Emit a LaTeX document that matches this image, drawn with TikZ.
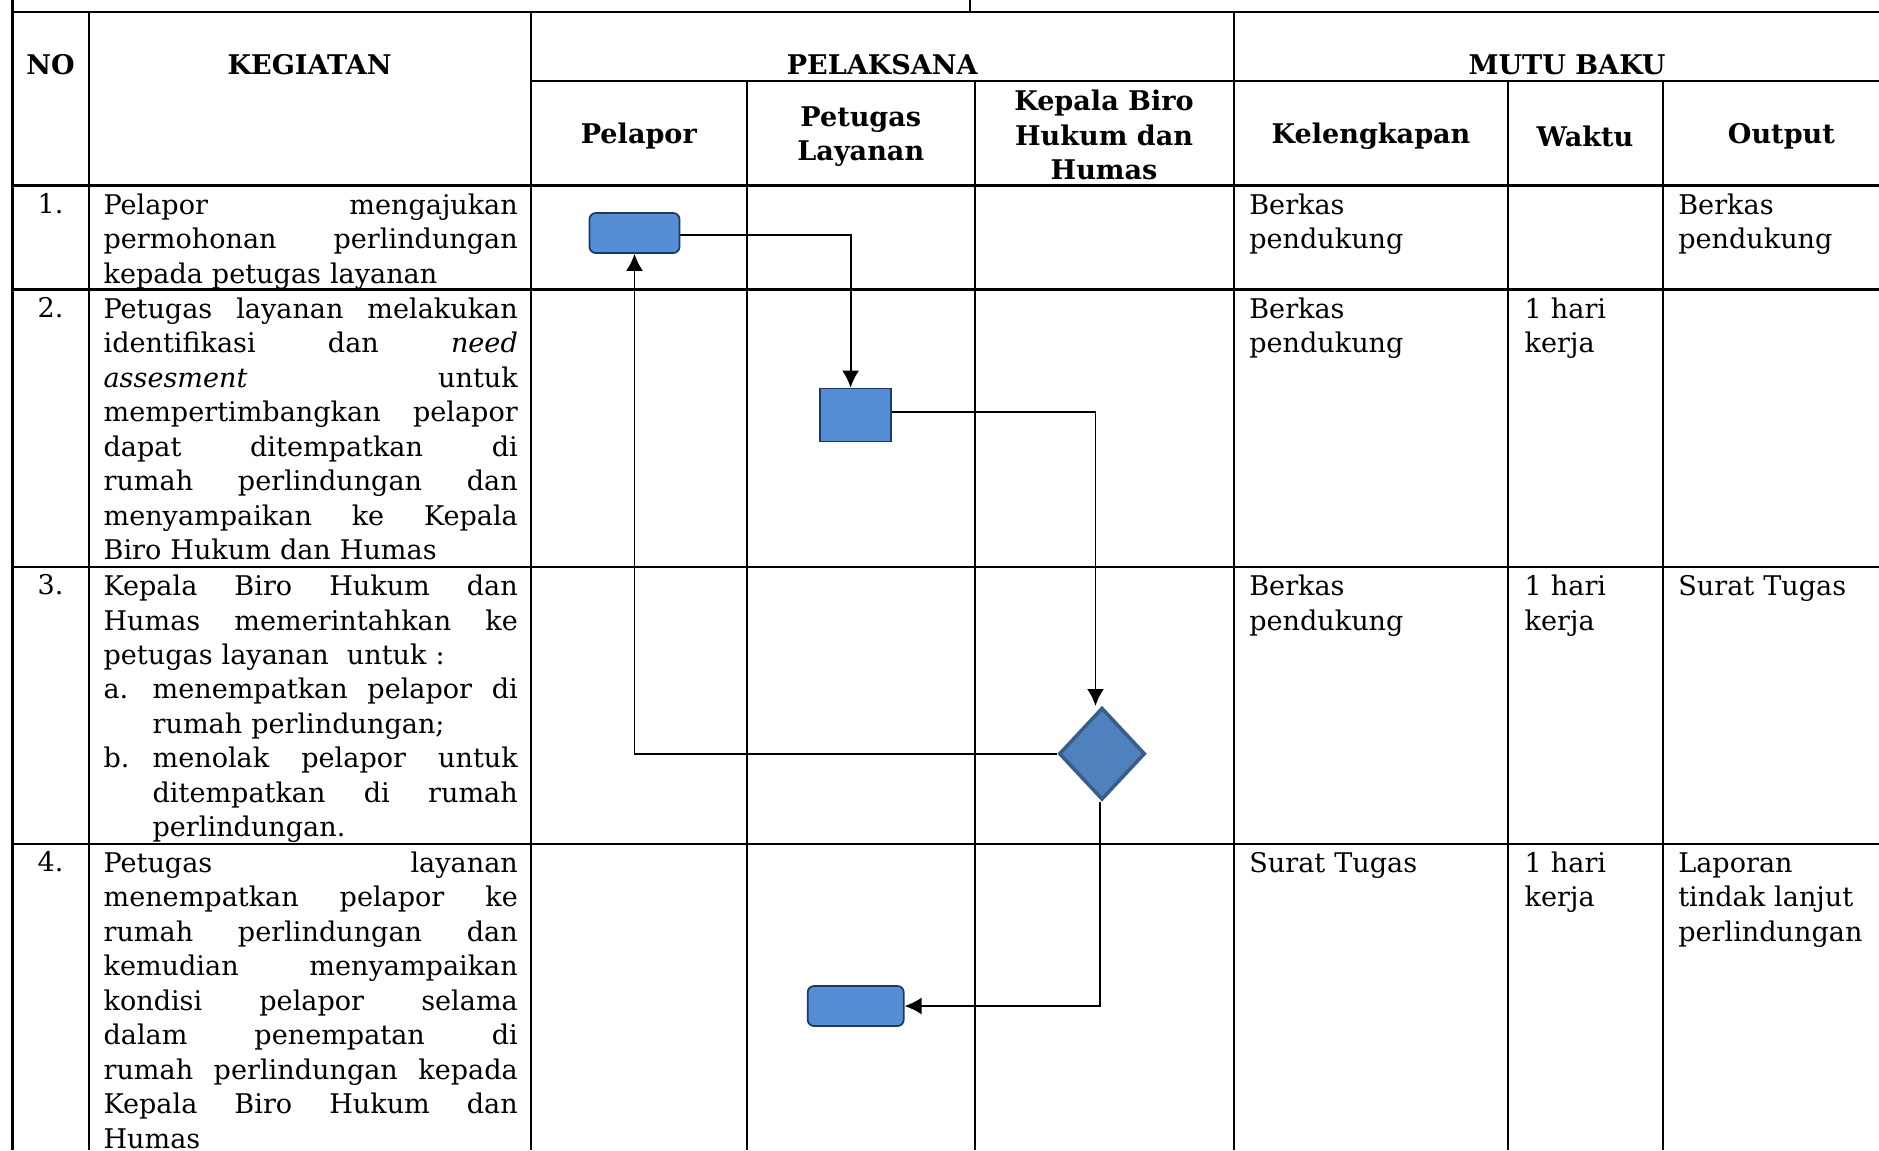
\documentclass[tikz,border=0pt]{standalone}
\usepackage{fontspec}
\setmainfont{DejaVu Serif}
\usetikzlibrary{arrows.meta,shapes.geometric}
\definecolor{boxblue}{RGB}{85,142,213}
\definecolor{boxedge}{RGB}{31,56,100}
\definecolor{diafill}{RGB}{79,129,189}
\definecolor{diaedge}{RGB}{56,93,138}
\newcommand\jl[2][4.14cm]{\makebox[#1][s]{\spaceskip=0.32em plus 1fil\relax #2}}
\newcommand\itm[1]{\makebox[0.49cm][l]{#1}}
\newcommand\txtsize{\fontsize{7.7}{9.8}\selectfont}
\tikzset{
  grid/.style={line width=0.6pt},
  cell/.style={anchor=north west, inner sep=0pt, text width=#1, align=left, font=\txtsize, execute at begin node=\strut},
  cell/.default=4.2cm,
  head/.style={inner sep=0pt, align=center, font=\txtsize\bfseries},
  num/.style={anchor=base, inner sep=0pt, font=\txtsize},
  termbox/.style={draw=boxedge, fill=boxblue, line width=0.5pt, rounded corners=1.8pt, inner sep=0pt, minimum width=#1, minimum height=0.4cm},
  procbox/.style={draw=boxedge, fill=boxblue, line width=0.5pt, inner sep=0pt, minimum width=0.71cm, minimum height=0.53cm},
  decide/.style={diamond, draw=diaedge, fill=diafill, line width=1pt, inner sep=0pt, minimum width=0.86cm, minimum height=0.92cm},
  flow/.style={line width=0.55pt}
}
\begin{document}
\begin{tikzpicture}[x=0.01cm, y=-0.01cm, >={Latex[length=4.8pt,width=4.8pt]}]
\useasboundingbox (0,0) rectangle (1879,1150);
\clip (0,0) rectangle (1879,1150);

% table grid
\draw[grid] (12.5,0) -- (12.5,1150);
\draw[grid] (970,0) -- (970,11.7);
\foreach \x in {88.6,530.6,1234} \draw[grid] (\x,11.7) -- (\x,1150);
\foreach \x in {747,974.7,1507.7,1662.8} \draw[grid] (\x,80.7) -- (\x,1150);
\foreach \y in {11.7,185.5,289.5,566.7,843.6} \draw[grid] (12.5,\y) -- (1900,\y);
\draw[grid] (530.6,80.7) -- (1900,80.7);

% headers
\node[head] (hno) at (50.5,64.5) {NO};
\node[head] (hkeg) at (309.6,64.5) {KEGIATAN};
\node[head] (hpel) at (882.3,64.5) {PELAKSANA};
\node[head] (hmutu) at (1567,64.5) {MUTU BAKU};
\node[head] (hpelapor) at (638.8,136.5) {Pelapor};
\node[head] (hpetugas) at (860.8,136.5) {Petugas\\Layanan};
\node[head] (hkepala) at (1104,135) {Kepala Biro\\Hukum dan\\Humas};
\node[head] (hkel) at (1371,136.5) {Kelengkapan};
\node[head] (hwaktu) at (1585,136.5) {Waktu};
\node[head] (hout) at (1781.4,136.5) {Output};

% row 1
\node[num] (n1) at (50.5,213.5) {1.};
\node[cell] (keg1) at (102.9,189.5) {\jl{Pelapor mengajukan}\\
  \jl{permohonan perlindungan}\\
  kepada petugas layanan};
\node[cell=2.4cm] (kel1) at (1248.6,189.5) {Berkas\\pendukung};
\node[cell=2.2cm] (out1) at (1677.6,189.5) {Berkas\\pendukung};

% row 2
\node[num] (n2) at (50.5,317.5) {2.};
\node[cell] (keg2) at (102.9,293.5) {\jl{Petugas layanan melakukan}\\
  \jl{identifikasi dan \textit{need}}\\
  \jl{\textit{assesment} untuk}\\
  \jl{mempertimbangkan pelapor}\\
  \jl{dapat ditempatkan di}\\
  \jl{rumah perlindungan dan}\\
  \jl{menyampaikan ke Kepala}\\
  Biro Hukum dan Humas};
\node[cell=2.4cm] (kel2) at (1248.6,293.5) {Berkas\\pendukung};
\node[cell=1.3cm] (wkt2) at (1524,293.5) {1 hari\\kerja};

% row 3
\node[num] (n3) at (50.5,594.7) {3.};
\node[cell] (keg3) at (102.9,570.7) {\jl{Kepala Biro Hukum dan}\\
  \jl{Humas memerintahkan ke}\\
  petugas layanan~ untuk :\\
  \itm{a.}\jl[3.65cm]{menempatkan pelapor di}\\
  \itm{}rumah perlindungan;\\
  \itm{b.}\jl[3.65cm]{menolak pelapor untuk}\\
  \itm{}\jl[3.65cm]{ditempatkan di rumah}\\
  \itm{}perlindungan.};
\node[cell=2.4cm] (kel3) at (1248.6,570.7) {Berkas\\pendukung};
\node[cell=1.3cm] (wkt3) at (1524,570.7) {1 hari\\kerja};
\node[cell=2.2cm] (out3) at (1677.6,570.7) {Surat Tugas};

% row 4
\node[num] (n4) at (50.5,871.6) {4.};
\node[cell] (keg4) at (102.9,847.6) {\jl{Petugas layanan}\\
  \jl{menempatkan pelapor ke}\\
  \jl{rumah perlindungan dan}\\
  \jl{kemudian menyampaikan}\\
  \jl{kondisi pelapor selama}\\
  \jl{dalam penempatan di}\\
  \jl{rumah perlindungan kepada}\\
  \jl{Kepala Biro Hukum dan}\\
  Humas};
\node[cell=2.4cm] (kel4) at (1248.6,847.6) {Surat Tugas};
\node[cell=1.3cm] (wkt4) at (1524,847.6) {1 hari\\kerja};
\node[cell=2.2cm] (out4) at (1677.6,847.6) {Laporan\\tindak lanjut\\perlindungan};

% flow
\node[termbox=0.9cm] (pelapor1) at (634.5,233) {};
\node[procbox] (layanan2) at (855.3,415) {};
\node[decide] (kepala3) at (1102,753.7) {};
\node[termbox=0.96cm] (layanan4) at (855.7,1006) {};

\draw[flow,->] ([yshift=-0.02cm]pelapor1.east) -| ([xshift=-0.047cm]layanan2.north);
\draw[flow,->] ([yshift=0.027cm]layanan2.east) -| ([xshift=-0.065cm]kepala3.north);
\draw[flow,->] (kepala3.west) -| (pelapor1.south);
\draw[flow,->] ([xshift=-0.02cm]kepala3.south) |- (layanan4.east);

\end{tikzpicture}
\end{document}
